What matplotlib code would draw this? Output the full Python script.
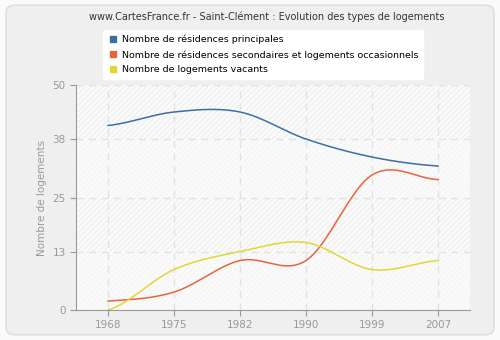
import numpy as np
import matplotlib
matplotlib.use("Agg")
import matplotlib.pyplot as plt
from matplotlib.patches import FancyBboxPatch
from matplotlib.lines import Line2D

years = ["1968", "1975", "1982", "1990", "1999", "2007"]
principales = [41, 44, 44, 38, 34, 32]
secondaires = [2, 4, 11, 11, 30, 29]
vacants = [0, 9, 13, 15, 9, 11]
yticks = [0, 13, 25, 38, 50]

labels = ["Nombre de résidences principales",
          "Nombre de résidences secondaires et logements occasionnels",
          "Nombre de logements vacants"]
colors = ["#3b6ea5", "#e8643a", "#e2d636"]

plt.rcParams["hatch.linewidth"] = 0.6


def smooth(y, n=40):
    # catmull-rom style curve through the points
    y = np.asarray(y, dtype=float)
    x = np.arange(len(y))
    m = np.zeros_like(y)
    m[1:-1] = (y[2:] - y[:-2]) / 2
    m[0] = (y[1] - y[0]) * 0.5
    m[-1] = (y[-1] - y[-2]) * 0.5
    xs, ys = [], []
    for i in range(len(y) - 1):
        t = np.linspace(0, 1, n)
        h00 = 2 * t**3 - 3 * t**2 + 1
        h10 = t**3 - 2 * t**2 + t
        h01 = -2 * t**3 + 3 * t**2
        h11 = t**3 - t**2
        xs.append(x[i] + t)
        ys.append(h00 * y[i] + h10 * m[i] + h01 * y[i + 1] + h11 * m[i + 1])
    return np.concatenate(xs), np.concatenate(ys)


fig = plt.figure(figsize=(5, 3.4), dpi=100, facecolor="#fafafa")
fig.patches.append(FancyBboxPatch((0.012, 0.015), 0.976, 0.97,
                                  boxstyle="round,pad=0,rounding_size=0.02",
                                  transform=fig.transFigure, facecolor="#efefef",
                                  edgecolor="#dcdcdc", linewidth=1, zorder=-1))

ax = fig.add_axes([0.152, 0.088, 0.788, 0.662])
ax.set_facecolor("#fafafa")
ax.set_xlim(-0.485, len(years) - 1 + 0.485)
ax.set_ylim(0, 50)

# alternating hatched bands
for i in range(len(yticks) - 1):
    hc = "#ebebeb" if i % 2 == 1 else "#f3f3f3"
    ax.axhspan(yticks[i], yticks[i + 1], facecolor="none", edgecolor=hc,
               hatch="//////", linewidth=0, zorder=0)

for yv in yticks[1:]:
    ax.axhline(yv, color="#e2e2e2", linestyle=(0, (5, 4)), linewidth=1, zorder=1)
for xv in range(len(years)):
    ax.axvline(xv, color="#e2e2e2", linestyle=(0, (5, 4)), linewidth=1, zorder=1)

for vals, c in zip([principales, secondaires, vacants], colors):
    xs, ys = smooth(vals)
    ax.plot(xs, ys, color=c, linewidth=1.1, zorder=3)

ax.set_xticks(range(len(years)))
ax.set_xticklabels(years)
ax.set_yticks(yticks)
for s in ["top", "right"]:
    ax.spines[s].set_visible(False)
for s in ["left", "bottom"]:
    ax.spines[s].set_color("#999999")
ax.tick_params(colors="#999999", labelcolor="#999999", labelsize=7.5, length=4)
ax.set_ylabel("Nombre de logements", color="#999999", fontsize=7.5)

fig.text(0.534, 0.95, "www.CartesFrance.fr - Saint-Clément : Evolution des types de logements",
         ha="center", va="center", fontsize=7, color="#333333")

handles = [Line2D([], [], marker="s", linestyle="none", color=c, markersize=4) for c in colors]
leg = fig.legend(handles, labels, loc="upper left", bbox_to_anchor=(0.196, 0.925),
                 fontsize=6.8, frameon=True, fancybox=True, handletextpad=0.3,
                 borderpad=0.5, labelspacing=0.6, handlelength=1.2)
leg.get_frame().set_facecolor("white")
leg.get_frame().set_edgecolor("white")
leg.get_frame().set_alpha(1)

fig.savefig("out.png", dpi=100, facecolor=fig.get_facecolor())
